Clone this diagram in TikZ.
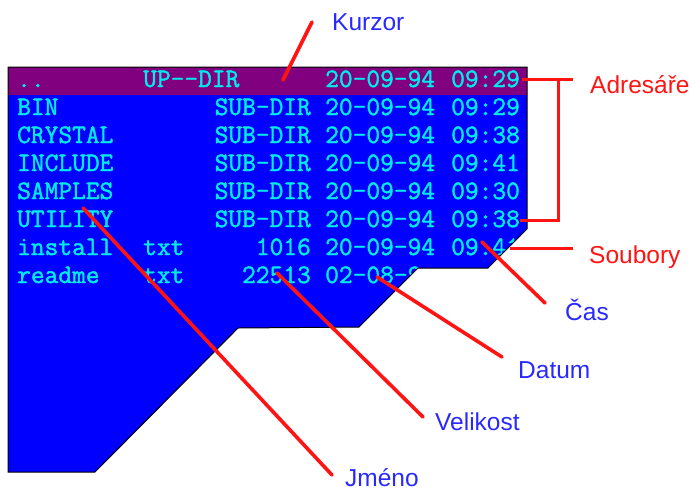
\documentclass[tikz,border=0pt]{standalone}
\usepackage{fontspec}
\newfontfamily\dosfont{Latin Modern Mono}[FakeBold=1.6,Ligatures=TeXOff]
\newfontfamily\labelfont{Liberation Sans}
\definecolor{panelblue}{RGB}{0,0,255}
\definecolor{cursorbar}{RGB}{128,0,128}
\definecolor{dostext}{RGB}{0,235,235}
\definecolor{tagblue}{RGB}{40,40,255}
\definecolor{tagred}{RGB}{255,20,20}

\begin{document}
\begin{tikzpicture}[x=1pt,y=-1pt,
   entry/.style={inner sep=0,text=dostext,font=\fontsize{26.67}{28}\dosfont\selectfont},
   tag/.style={anchor=base west,inner sep=0,font=\fontsize{24.5}{28}\labelfont\selectfont},
   pointer/.style={draw=tagred,line width=3.6pt,line cap=round},
   bracket/.style={draw=tagred,line width=3pt}]
   \useasboundingbox (0,0) rectangle (695,491);
   % panel with the listing
   \begin{scope}
   \clip (8,67) -- (527,67) -- (527,229) -- (488,268) -- (418,268) -- (359,327)
      -- (238,328) -- (95,472) -- (8,472) -- cycle;
   \fill[panelblue] (0,60) rectangle (540,480);
   \fill[cursorbar] (8,67) rectangle (527,95);
   \foreach \i/\fname/\fext/\fsize/\fdate/\ftime in {
      0/{..}/UP--DIR/{}/20-09-94/09:29,
      1/BIN/{}/SUB-DIR/20-09-94/09:29,
      2/CRYSTAL/{}/SUB-DIR/20-09-94/09:38,
      3/INCLUDE/{}/SUB-DIR/20-09-94/09:41,
      4/SAMPLES/{}/SUB-DIR/20-09-94/09:30,
      5/UTILITY/{}/SUB-DIR/20-09-94/09:38,
      6/install/txt/1016/20-09-94/09:41,
      7/readme/txt/22513/02-08-9/{}}{
      \node[entry,anchor=base west] (name\i) at (17,{87+28*\i}) {\fname};
      \node[entry,anchor=base west] (ext\i)  at (143,{87+28*\i}) {\fext};
      \node[entry,anchor=base east] (size\i) at (311,{87+28*\i}) {\fsize};
      \node[entry,anchor=base west] (date\i) at (325,{87+28*\i}) {\fdate};
      \node[entry,anchor=base west] (time\i) at (451,{87+28*\i}) {\ftime};
   }
   \end{scope}
   \draw[line width=1pt] (8,67) -- (527,67) -- (527,229) -- (488,268) -- (418,268)
      -- (359,327) -- (238,328) -- (95,472) -- (8,472) -- cycle;

   % labels
   \node[tag,text=tagblue] (kurzor)   at (332,30)  {Kurzor};
   \node[tag,text=tagred]  (adresare) at (590,93)  {Adresáře};
   \node[tag,text=tagred]  (soubory)  at (589,263) {Soubory};
   \node[tag,text=tagblue] (cas)      at (565,320) {Čas};
   \node[tag,text=tagblue] (datum)    at (518,378) {Datum};
   \node[tag,text=tagblue] (velikost) at (435,430) {Velikost};
   \node[tag,text=tagblue] (jmeno)    at (345,486) {Jméno};

   % pointer ends
   \coordinate (p_cursor) at (283,80);
   \coordinate (p_name)   at (83,208);
   \coordinate (p_size)   at (277,273);
   \coordinate (p_date)   at (377,277);
   \coordinate (p_time)   at (482,242);
   \coordinate (kurzor_tip)   at (312,22);
   \coordinate (jmeno_tip)    at (332,475);
   \coordinate (velikost_tip) at (423,417);
   \coordinate (datum_tip)    at (502,357);
   \coordinate (cas_tip)      at (545,303);
   \coordinate (dir_first) at (522,79);
   \coordinate (dir_last)  at (520,220);
   \coordinate (dir_join)  at (558,79);
   \coordinate (adresare_tip) at (573,79);
   \coordinate (file_first)  at (510,248);
   \coordinate (soubory_tip) at (573,248);

   \path[pointer]
    (p_cursor) edge (kurzor_tip)
    (p_name)   edge (jmeno_tip)
    (p_size)   edge (velikost_tip)
    (p_date)   edge (datum_tip)
    (p_time)   edge (cas_tip);
   \draw[bracket] (dir_first) -- (adresare_tip);
   \draw[bracket] (dir_last) -| (dir_join);
   \draw[bracket] (file_first) -- (soubory_tip);
\end{tikzpicture}
\end{document}
